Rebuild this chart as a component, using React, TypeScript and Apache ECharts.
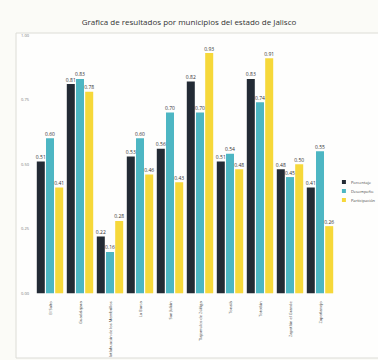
import React, { useEffect, useRef } from "react";
import * as echarts from "echarts";

const categories = [
  "El Salto",
  "Guadalajara",
  "Ixtlahuacán de los Membrillos",
  "La Barca",
  "San Julián",
  "Tlajomulco de Zúñiga",
  "Tonalá",
  "Tototlán",
  "Zapotlán el Grande",
  "Zapotlanejo",
];
const seriesNames = ["Porcentaje", "Desempeño", "Participación"];
const serie1 = [0.51, 0.81, 0.22, 0.53, 0.56, 0.82, 0.51, 0.83, 0.48, 0.41];
const serie2 = [0.6, 0.83, 0.16, 0.6, 0.7, 0.7, 0.54, 0.74, 0.45, 0.55];
const serie3 = [0.41, 0.78, 0.28, 0.46, 0.43, 0.93, 0.48, 0.91, 0.5, 0.26];
const colors = ["#232b35", "#4db6c3", "#f6d83a"];

export default function App() {
  const ref = useRef<HTMLDivElement>(null);
  useEffect(() => {
    if (!ref.current) return;
    const chart = echarts.init(ref.current, null, { renderer: "svg" });
    const font = "Open Sans";
    const mk = (name: string, data: number[], i: number) => ({
      name,
      type: "bar",
      data,
      barWidth: 8,
      barGap: "15%",
      itemStyle: { color: colors[i] },
      label: {
        show: true,
        position: "top",
        distance: 2,
        fontSize: 5,
        fontFamily: font,
        color: "#333",
        formatter: (p: any) => p.value.toFixed(2),
      },
    });
    chart.setOption({
      animation: false,
      backgroundColor: "#fbfbf7",
      textStyle: { fontFamily: font },
      title: {
        text: "Grafica de resultados por municipios del estado de Jalisco",
        left: "center",
        top: 12,
        textStyle: { fontSize: 8, fontWeight: "normal", color: "#333", fontFamily: font },
      },
      graphic: [
        {
          type: "rect",
          z: -10,
          shape: { x: 16, y: 33, width: 370, height: 325 },
          style: { fill: "#fefefd", stroke: "#dcdcd6", lineWidth: 1 },
        },
      ],
      legend: {
        orient: "vertical",
        right: 3,
        top: 180,
        padding: 0,
        itemWidth: 4,
        itemHeight: 4,
        itemGap: 5,
        icon: "rect",
        textStyle: { fontSize: 4, color: "#444", fontFamily: font, overflow: "none" },
        data: seriesNames,
      },
      grid: { left: 35, right: 43, top: 35, bottom: 58, containLabel: false },
      xAxis: {
        type: "category",
        data: categories,
        axisLine: { show: false },
        axisTick: { show: false },
        axisLabel: {
          rotate: 90,
          fontSize: 4,
          color: "#444",
          margin: 8,
          interval: 0,
          fontFamily: font,
        },
      },
      yAxis: {
        type: "value",
        min: 0,
        max: 1,
        interval: 0.25,
        splitLine: { show: false },
        axisLine: { show: false },
        axisTick: { show: false },
        axisLabel: {
          fontSize: 4,
          color: "#777",
          margin: 6,
          formatter: (v: number) => v.toFixed(2),
        },
      },
      series: [mk(seriesNames[0], serie1, 0), mk(seriesNames[1], serie2, 1), mk(seriesNames[2], serie3, 2)],
    });
    return () => chart.dispose();
  }, []);
  return <div ref={ref} style={{ position: "fixed", left: 0, top: 0, width: 378, height: 360 }} />;
}
